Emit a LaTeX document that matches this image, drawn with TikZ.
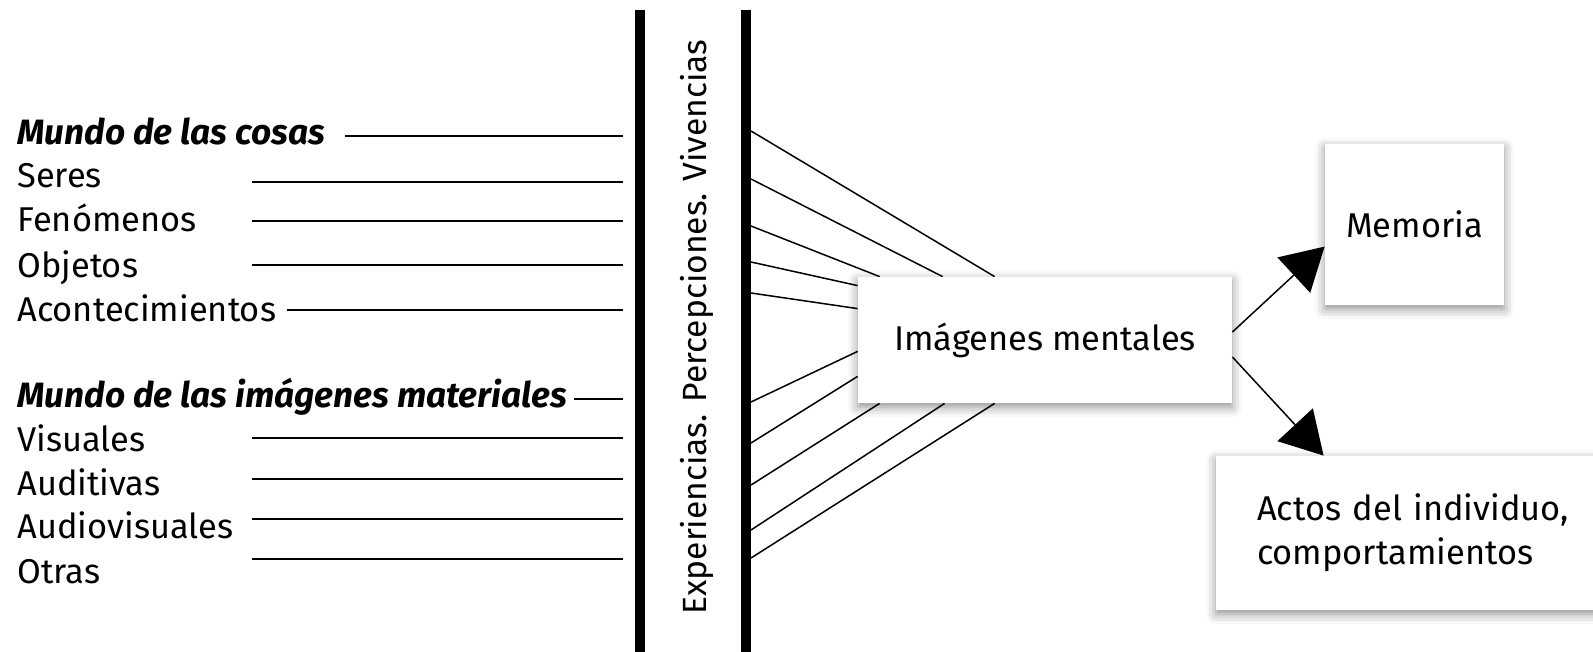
\documentclass[tikz,border=0pt]{standalone}
\usepackage{fontspec}
\setmainfont{Fira Sans}
\usetikzlibrary{arrows.meta,calc,positioning,shadows.blur,backgrounds}

\begin{document}
\begin{tikzpicture}[x=0.5pt,y=-0.5pt,
    lbl/.style={anchor=base west,inner sep=0pt,font=\fontsize{17.2}{20}\selectfont},
    negrita/.style={lbl,font=\fontsize{17.6}{20}\selectfont\bfseries\itshape},
    caja/.style={fill=white,inner sep=0pt,font=\fontsize{17.2}{22}\selectfont,
        blur shadow={shadow xshift=0pt,shadow yshift=-2pt,shadow blur radius=5pt,shadow opacity=45}},
    flecha/.style={-{Triangle[length=21pt,width=24pt]},line width=0.75pt}]
    \useasboundingbox (0,0) rectangle (1593,652);
    % barras y texto vertical
    \draw[line width=5pt] (640,10) -- (640,652);
    \draw[line width=5pt] (746,10) -- (746,652);
    \node[rotate=90,inner sep=0pt,font=\fontsize{16.8}{20}\selectfont] (exp) at (697,327) {Experiencias. Percepciones. Vivencias};
    % columna izquierda
    \node[negrita] (cosas) at (17,145) {Mundo de las cosas};
    \node[lbl] (seres) at (17,188) {Seres};
    \node[lbl] (fen) at (17,232) {Fenómenos};
    \node[lbl] (obj) at (17,277) {Objetos};
    \node[lbl] (acont) at (17,321) {Acontecimientos};
    \node[negrita] (imat) at (17,407) {Mundo de las imágenes materiales};
    \node[lbl] (vis) at (17,451) {Visuales};
    \node[lbl] (aud) at (17,495) {Auditivas};
    \node[lbl] (audvis) at (17,538) {Audiovisuales};
    \node[lbl] (otras) at (17,583) {Otras};
    \coordinate (ini) at (252,0);
    \foreach \n/\y in {1/136,2/182,3/221,4/265,5/310,6/399,7/438,8/479,9/519,10/559}
        \coordinate (l\n) at (623,\y);
    \draw[line width=0.75pt] (345,0 |- l1) -- (l1);
    \foreach \n in {2,3,4,7,8,9,10}
        \draw[line width=0.75pt] (ini |- l\n) -- (l\n);
    \draw[line width=0.75pt] (287,0 |- l5) -- (l5);
    \draw[line width=0.75pt] (574,0 |- l6) -- (l6);
    % cajas
    \node[caja,minimum width=187pt,minimum height=63pt] (img) at (1045,340) {Imágenes mentales};
    \node[caja,minimum width=89.5pt,minimum height=80.5pt] (mem) at (1414.5,224.5) {Memoria};
    \node[caja,minimum width=202pt,minimum height=77pt,inner xsep=20.5pt,text width=161pt,align=left] (actos) at (1418,533) {Actos del individuo,\\comportamientos};
    % haz de lineas
    \begin{scope}[on background layer]
    \foreach \y/\dx in {131/137,179/85,226/22}
        \draw[line width=0.75pt] (751,\y) -- ($(img.north west)+(\dx,0)$);
    \foreach \y/\dy in {262/9,293/32}
        \draw[line width=0.75pt] (751,\y) -- ($(img.north west)+(0,\dy)$);
    \foreach \y/\dy in {402/-52,443/-27}
        \draw[line width=0.75pt] (751,\y) -- ($(img.south west)+(0,\dy)$);
    \foreach \y/\dx in {485/22,530/87,558/137}
        \draw[line width=0.75pt] (751,\y) -- ($(img.south west)+(\dx,0)$);
    \end{scope}
    % flechas
    \draw[flecha] ($(img.east)+(0,-8)$) -- ($(mem.north west)+(0,103)$);
    \draw[flecha] ($(img.east)+(0,17)$) -- ($(actos.north west)+(108,0)$);
\end{tikzpicture}
\end{document}
